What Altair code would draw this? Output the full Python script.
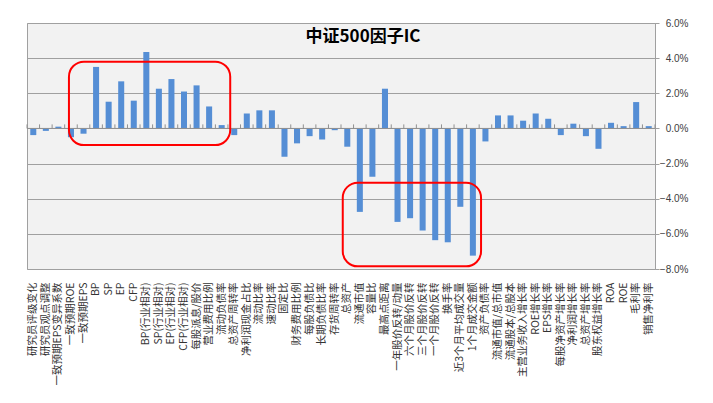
import altair as alt
import pandas as pd

categories = [
    "研究员评级变化", "研究员观点调整", "一致预期EPS变异系数", "一致预期ROE", "一致预期EPS",
    "BP", "SP", "EP", "CFP", "BP(行业相对)",
    "SP(行业相对)", "EP(行业相对)", "CFP(行业相对)", "每股派息/股价", "营业费用比例",
    "流动负债率", "总资产周转率", "净利润现金占比", "流动比率", "速动比率",
    "固定比", "财务费用比例", "每股负债比", "长期负债比率", "存货周转率",
    "总资产", "流通市值", "容量比", "最高点距离", "一年股价反转/动量",
    "六个月股价反转", "三个月股价反转", "一个月股价反转", "换手率", "近3个月平均成交量",
    "1个月成交金额", "资产负债率", "流通市值/总市值", "流通股本/总股本", "主营业务收入增长率",
    "ROE增长率", "EPS增长率", "每股净资产增长率", "净利润增长率", "总资产增长率",
    "股东权益增长率", "ROA", "ROE", "毛利率", "销售净利率",
]
ic_pct = [
    -0.38, -0.14, 0.10, -0.50, -0.30,
    3.50, 1.52, 2.68, 1.58, 4.35,
    2.26, 2.81, 2.10, 2.45, 1.25,
    0.19, -0.38, 0.85, 1.03, 1.03,
    -1.61, -0.85, -0.44, -0.63, -0.10,
    -1.04, -4.75, -2.75, 2.26, -5.32,
    -5.11, -5.81, -6.36, -6.48, -4.46,
    -7.24, -0.74, 0.74, 0.74, 0.44,
    0.85, 0.55, -0.38, 0.27, -0.44,
    -1.16, 0.32, 0.13, 1.50, 0.13,
]
y_ticks = [-0.08, -0.06, -0.04, -0.02, 0.0, 0.02, 0.04, 0.06]

# highlight boxes (category-index units and percent)
box_x_start = [3.34, 25.14]
box_x_end = [16.18, 36.15]
box_y_low = [-0.95, -7.85]
box_y_high = [3.80, -3.09]

n = len(categories)
df = pd.DataFrame({"factor": categories, "ic": [v / 100 for v in ic_pct]})
df_zero = pd.DataFrame({"ic": [0.0]})
df_ticks = pd.DataFrame({"b": list(range(n + 1)), "ic": [0.0] * (n + 1), "ic2": [0.0023] * (n + 1)})
df_box = pd.DataFrame({
    "x0": box_x_start, "x1": box_x_end,
    "ic": [v / 100 for v in box_y_low], "ic2": [v / 100 for v in box_y_high],
})

grid_col = "#A0A0A0"
yscale = alt.Scale(domain=[-0.08, 0.06], nice=False, zero=False)
idx_scale = alt.Scale(domain=[0, n], nice=False, zero=False)
y_axis = alt.Axis(orient="right", format=".1%", values=y_ticks, title=None,
                  grid=True, gridColor=grid_col, domainColor=grid_col,
                  tickColor=grid_col, tickSize=4, labelAlign="right",
                  labelPadding=29, labelFontSize=10, labelColor="#404040",
                  labelFont="Liberation Sans")

def yenc():
    return alt.Y("ic:Q", scale=yscale, axis=y_axis)

bars = alt.Chart(df).mark_bar(color="#558ED5").encode(
    x=alt.X("factor:N", sort=None,
            scale=alt.Scale(paddingInner=0.52, paddingOuter=0.26),
            axis=alt.Axis(title=None, labelAngle=-90, ticks=False, domain=False,
                          labelPadding=13, labelFontSize=10.5, labelColor="#333333",
                          labelFont="Noto Sans CJK SC", labelLimit=200, grid=False)),
    y=yenc(),
)

zero = alt.Chart(df_zero).mark_rule(color="#909090", strokeWidth=1).encode(y=yenc())

ticks = alt.Chart(df_ticks).mark_rule(color="#909090", strokeWidth=1).encode(
    x=alt.X("b:Q", scale=idx_scale, axis=None),
    y=yenc(),
    y2="ic2",
)

boxes = alt.Chart(df_box).mark_rect(filled=False, stroke="#FF0000", strokeWidth=2,
                                    cornerRadius=15).encode(
    x=alt.X("x0:Q", scale=idx_scale, axis=None),
    x2="x1",
    y=yenc(),
    y2="ic2",
)

chart = alt.layer(bars, zero, ticks, boxes).resolve_scale(x="independent").properties(
    width=628, height=246,
    padding={"left": 19, "top": 15, "right": 50, "bottom": 126},
    autosize="none",
    background="white",
    title=alt.TitleParams("中证500因子IC", fontSize=17, font="Noto Sans CJK SC",
                          fontWeight="bold", color="black", anchor="middle",
                          offset=-28, dx=22),
).configure_view(fill="#F2F2F2", stroke=grid_col)

chart.save("out.html", embed_options={"renderer": "svg", "actions": False})
